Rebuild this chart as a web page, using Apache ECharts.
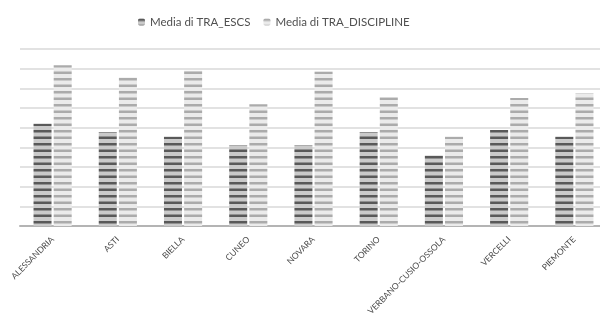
<!DOCTYPE html>
<html>
<head>
<meta charset="utf-8">
<script src="https://cdn.jsdelivr.net/npm/echarts@6/dist/echarts.min.js"></script>
<style>
  html, body { margin: 0; padding: 0; background: #fff; }
  #chart { width: 600px; height: 323px; }
</style>
</head>
<body>
<div id="chart"></div>
<script>
// Provinces of Piedmont plus the regional total
const categories = ['ALESSANDRIA', 'ASTI', 'BIELLA', 'CUNEO', 'NOVARA', 'TORINO', 'VERBANO-CUSIO-OSSOLA', 'VERCELLI', 'PIEMONTE'];
const seriesNames = ['Media di TRA_ESCS', 'Media di TRA_DISCIPLINE'];
const escsValues = [5.2, 4.78, 4.54, 4.1, 4.1, 4.78, 3.59, 4.88, 4.54];
const disciplineValues = [8.18, 7.55, 7.89, 6.19, 7.86, 6.55, 4.54, 6.51, 6.75];
const yMin = 0, yMax = 9, yStep = 1;

// Horizontal-stripe fill used by each series
function stripes(bg, fg) {
  const c = document.createElement('canvas');
  c.width = 4; c.height = 13;
  const g = c.getContext('2d');
  g.fillStyle = bg; g.fillRect(0, 0, 4, 13);
  g.fillStyle = fg;
  g.fillRect(0, 0, 4, 2.5);
  g.fillRect(0, 6.5, 4, 2.5);
  return { image: c, repeat: 'repeat' };
}

const chart = echarts.init(document.getElementById('chart'), null, { renderer: 'canvas' });
const font = 'Lato, "Open Sans", sans-serif';

chart.setOption({
  animation: false,
  legend: {
    top: 11,
    left: 133,
    itemWidth: 7,
    itemHeight: 7,
    itemGap: 13,
    textStyle: { fontFamily: font, fontSize: 11.5, color: '#505050' },
    data: seriesNames
  },
  grid: { left: 20, right: -7, top: 49, bottom: 97, containLabel: false, outerBoundsMode: 'none' },
  xAxis: {
    type: 'category',
    data: categories,
    axisLine: { lineStyle: { color: '#b4b4b4', width: 2 } },
    axisTick: { show: false },
    axisLabel: { rotate: 45, fontFamily: font, fontSize: 8.5, color: '#4a4a4a', margin: 12, interval: 0 }
  },
  yAxis: {
    type: 'value',
    min: yMin, max: yMax, interval: yStep,
    axisLabel: { show: false },
    axisLine: { show: false },
    axisTick: { show: false },
    splitLine: { lineStyle: { color: '#d9d9d9', width: 1.5 } }
  },
  series: [
    {
      name: seriesNames[0], type: 'bar', data: escsValues,
      barWidth: 18, barGap: '12%',
      itemStyle: { color: stripes('#cacaca', '#595959') }
    },
    {
      name: seriesNames[1], type: 'bar', data: disciplineValues,
      barWidth: 18,
      itemStyle: { color: stripes('#ebebeb', '#ababab') }
    }
  ]
});
</script>
</body>
</html>
